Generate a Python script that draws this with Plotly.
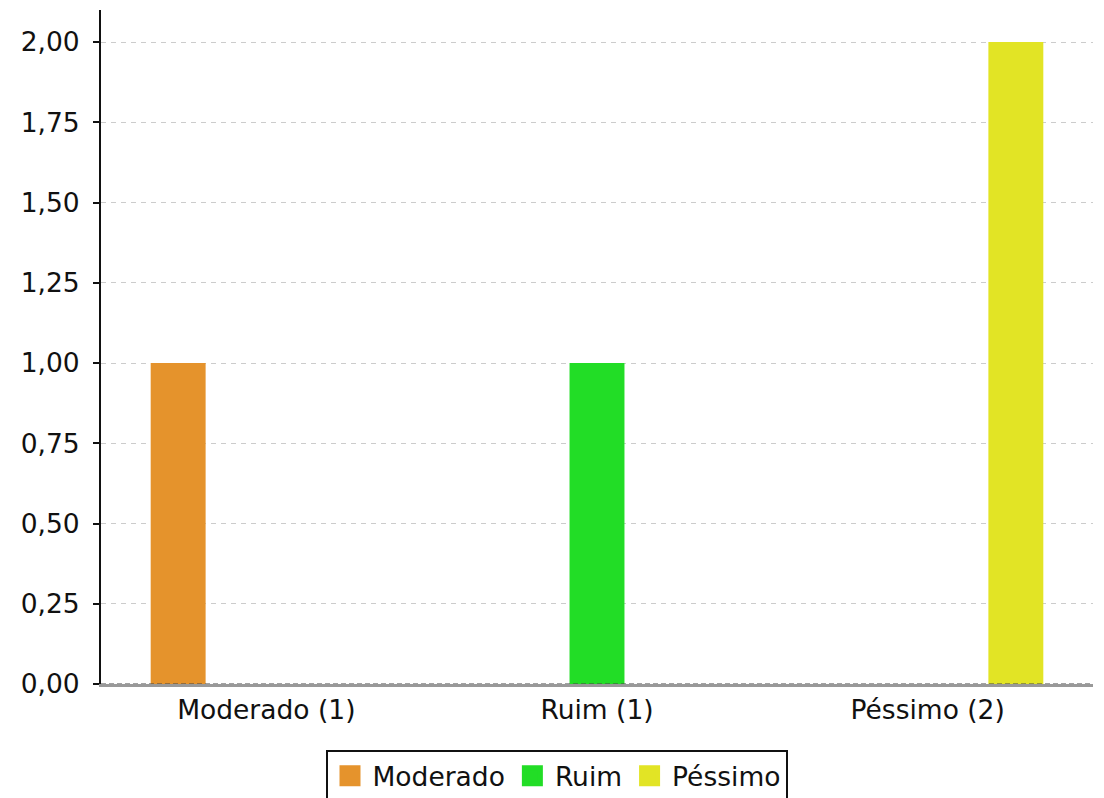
import plotly.graph_objects as go

categories = ["Moderado (1)", "Ruim (1)", "Péssimo (2)"]
series_names = ["Moderado", "Ruim", "Péssimo"]
series_values = [
    [1, None, None],
    [None, 1, None],
    [None, None, 2],
]
colors = ["#E5932C", "#22DD26", "#E2E425"]
y_ticks = [0, 0.25, 0.5, 0.75, 1.0, 1.25, 1.5, 1.75, 2.0]
y_tick_text = ["0,00", "0,25", "0,50", "0,75", "1,00", "1,25", "1,50", "1,75", "2,00"]

fig = go.Figure()
for name, vals, col in zip(series_names, series_values, colors):
    fig.add_trace(go.Bar(x=categories, y=vals, name=name, marker_color=col,
                         marker_line_width=0, showlegend=False))
# legend entries with larger square swatches
for name, col in zip(series_names, colors):
    fig.add_trace(go.Scatter(x=[None], y=[None], mode="markers", name=name,
                             marker=dict(symbol="square", size=16, color=col,
                                         line=dict(color=col, width=5)),
                             showlegend=True))

font = dict(family="DejaVu Sans", size=26.5, color="#111")
fig.update_layout(
    width=1097, height=790,
    margin=dict(l=93, r=12, t=2, b=114),
    paper_bgcolor="white", plot_bgcolor="white",
    barmode="group", bargap=0.2, bargroupgap=0.377,
    font=font,
    showlegend=True,
    legend=dict(orientation="h", xref="container", yref="container",
                x=0.5, xanchor="center", y=1 - 742 / 790, yanchor="top",
                bordercolor="#111", borderwidth=2, font=font,
                itemwidth=35, traceorder="normal", itemsizing="trace"),
    xaxis=dict(showgrid=False, showline=True, linecolor="#999", linewidth=3,
               ticks="", tickfont=font, zeroline=False),
    yaxis=dict(range=[0, 2.1], tickvals=y_ticks, ticktext=y_tick_text,
               showgrid=True, gridcolor="#CCCCCC", gridwidth=1, griddash="5px,5px",
               showline=True, linecolor="#111", linewidth=2,
               ticks="outside", ticklen=6, tickcolor="#111", tickwidth=2,
               ticklabelstandoff=8,
               tickfont=font, zeroline=False),
)
fig.add_shape(type="line", xref="paper", yref="y", x0=0, x1=1, y0=0, y1=0,
              line=dict(color="#444", width=1, dash="5px,3px"))
fig.write_html("out.html")
